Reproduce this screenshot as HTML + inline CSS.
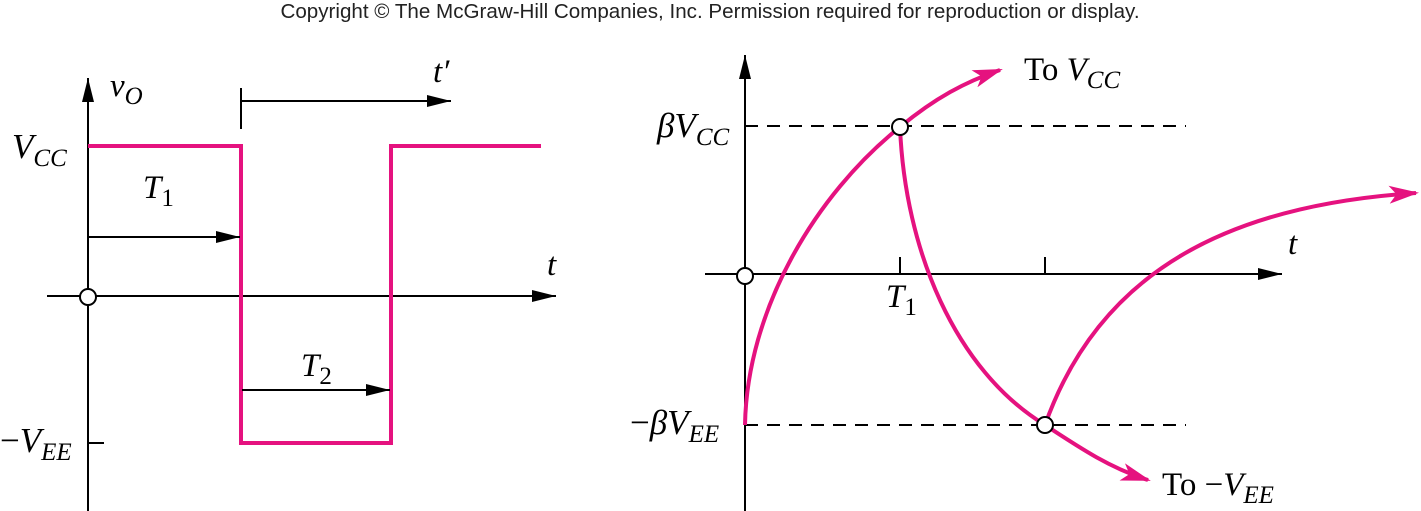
<!DOCTYPE html>
<html><head><meta charset="utf-8"><style>
html,body{margin:0;padding:0;background:#fff;}
svg{display:block;font-family:"Liberation Serif",serif;}
.it{font-style:italic;}
</style></head><body>
<svg id="c" width="1421" height="511" viewBox="0 0 1421 511">
<defs>
<marker id="ak" viewBox="0 0 10 10" refX="10" refY="5" markerWidth="24" markerHeight="12" markerUnits="userSpaceOnUse" orient="auto" preserveAspectRatio="none"><path d="M0,0 L10,5 L0,10 z" fill="#000"/></marker>
<marker id="ap" viewBox="0 0 10 10" refX="9" refY="5" markerWidth="30" markerHeight="18" markerUnits="userSpaceOnUse" orient="auto" preserveAspectRatio="none"><path d="M0,0 L10,5 L0,10 L2.5,5 z" fill="#e5127f"/></marker>
</defs>
<text x="710" y="18" text-anchor="middle" font-family="Liberation Sans, sans-serif" font-size="20.6" fill="#222">Copyright © The McGraw-Hill Companies, Inc. Permission required for reproduction or display.</text>

<g>
<line x1="88" y1="511" x2="88" y2="78" stroke="#000" stroke-width="2" marker-end="url(#ak)"/>
<line x1="47" y1="296" x2="556" y2="296" stroke="#000" stroke-width="2" marker-end="url(#ak)"/>
<line x1="88" y1="443" x2="104" y2="443" stroke="#000" stroke-width="2"/>
<polyline id="sq" fill="none" stroke="#e5127f" stroke-width="4"/>
<circle cx="88" cy="297" r="8" fill="#fff" stroke="#000" stroke-width="2"/>
<line x1="88" y1="237" x2="240" y2="237" stroke="#000" stroke-width="2" marker-end="url(#ak)"/>
<line x1="242" y1="390" x2="390" y2="390" stroke="#000" stroke-width="2" marker-end="url(#ak)"/>
<line x1="241" y1="88" x2="241" y2="129" stroke="#000" stroke-width="2"/>
<line x1="241" y1="101" x2="451" y2="101" stroke="#000" stroke-width="2" marker-end="url(#ak)"/>
<text x="110" y="96" font-size="33" class="it">v<tspan font-size="25" dy="8">O</tspan></text>
<text x="12" y="158" font-size="35" class="it">V<tspan font-size="25" dy="8">CC</tspan></text>
<text x="0" y="452" font-size="35" class="it"><tspan font-style="normal">−</tspan>V<tspan font-size="25" dy="8">EE</tspan></text>
<text x="143" y="198" font-size="33" class="it">T<tspan font-size="25" dy="8" font-style="normal">1</tspan></text>
<text x="301" y="376" font-size="33" class="it">T<tspan font-size="25" dy="8" font-style="normal">2</tspan></text>
<text x="547" y="275" font-size="33" class="it">t</text>
<text x="433" y="82" font-size="33" class="it">t′</text>
</g>

<g>
<line x1="745" y1="511" x2="745" y2="55" stroke="#000" stroke-width="2" marker-end="url(#ak)"/>
<line x1="705" y1="274" x2="1282" y2="274" stroke="#000" stroke-width="2" marker-end="url(#ak)"/>
<line x1="745" y1="126" x2="1186" y2="126" stroke="#000" stroke-width="2" stroke-dasharray="13,9"/>
<line x1="745" y1="425" x2="1186" y2="425" stroke="#000" stroke-width="2" stroke-dasharray="13,9"/>
<line x1="900" y1="257" x2="900" y2="274" stroke="#000" stroke-width="2"/>
<line x1="1045" y1="257" x2="1045" y2="274" stroke="#000" stroke-width="2"/>
<path d="M745,425 C747,310 815,195 900,127 C935,98 965,82 1000,70" fill="none" stroke="#e5127f" stroke-width="4" marker-end="url(#ap)"/>
<path d="M900,127 C905,250 955,370 1045,425 C1080,448 1110,468 1148,480" fill="none" stroke="#e5127f" stroke-width="4" marker-end="url(#ap)"/>
<path d="M1045,425 C1100,270 1230,205 1416,193" fill="none" stroke="#e5127f" stroke-width="4" marker-end="url(#ap)"/>
<circle cx="745" cy="276" r="8" fill="#fff" stroke="#000" stroke-width="2"/>
<circle cx="900" cy="127" r="8" fill="#fff" stroke="#000" stroke-width="2"/>
<circle cx="1045" cy="425" r="8" fill="#fff" stroke="#000" stroke-width="2"/>
<text x="1024" y="80" font-size="33">To <tspan class="it">V</tspan><tspan class="it" font-size="25" dy="8">CC</tspan></text>
<text x="1162" y="495" font-size="33">To −<tspan class="it">V</tspan><tspan class="it" font-size="25" dy="8">EE</tspan></text>
<text x="657" y="137" font-size="35" class="it">βV<tspan font-size="25" dy="8">CC</tspan></text>
<text x="630" y="434" font-size="35" class="it"><tspan font-style="normal">−</tspan>βV<tspan font-size="25" dy="8">EE</tspan></text>
<text x="886" y="307" font-size="33" class="it">T<tspan font-size="25" dy="8" font-style="normal">1</tspan></text>
<text x="1288" y="254" font-size="33" class="it">t</text>
</g>
</svg>
<script>
// square wave data: time breakpoints and levels (+1 = VCC, -1 = -VEE)
const sqTimes = [0, 1, 1, 2, 2, 3];
const sqLevels = [1, 1, -1, -1, 1, 1];
const sqEnd = [0, 153, 153, 303, 303, 453];
function xs(t, i){ return 88 + sqEnd[i]; }
function ys(v){ return 294.5 - v*148.5; }
const pts = sqTimes.map((t,i)=>xs(t,i)+','+ys(sqLevels[i])).join(' ');
document.getElementById('sq').setAttribute('points', pts);
</script>
</body></html>
